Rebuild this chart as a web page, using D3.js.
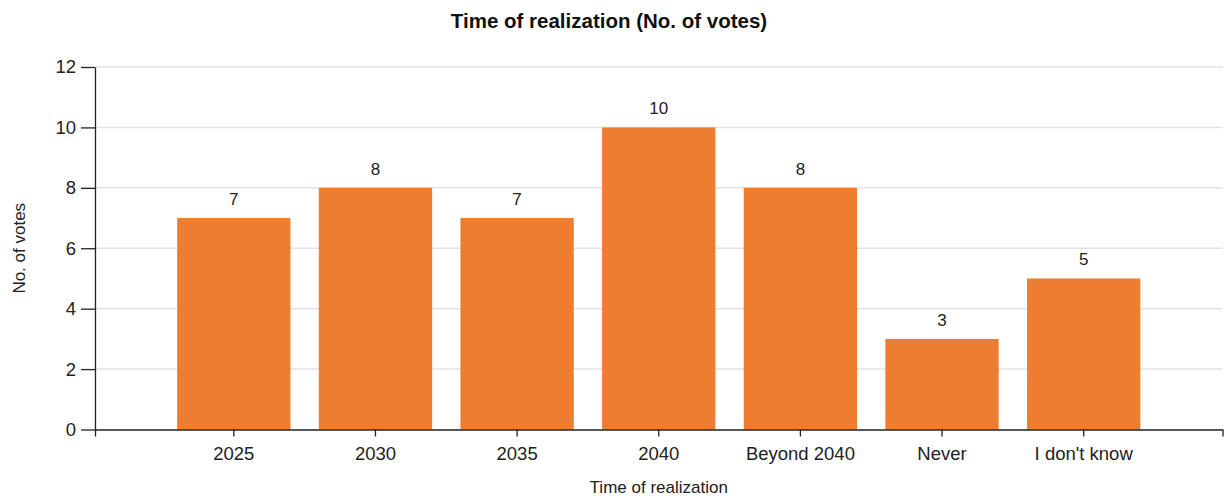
<!DOCTYPE html>
<html>
<head>
<meta charset="utf-8">
<script src="https://cdn.jsdelivr.net/npm/d3@7"></script>
<style>
  html, body { margin: 0; padding: 0; background: #fff; }
  svg { display: block; font-family: "Liberation Sans", Arial, sans-serif; }
</style>
</head>
<body>
<svg id="chart" width="1227" height="498"></svg>
<script>
const categories = ["2025", "2030", "2035", "2040", "Beyond 2040", "Never", "I don't know"];
const votes = [7, 8, 7, 10, 8, 3, 5];
const yTicks = [0, 2, 4, 6, 8, 10, 12];
const titleText = "Time of realization (No. of votes)";
const xTitle = "Time of realization";
const yTitle = "No. of votes";

(function () {
const svg = d3.select("#chart");
const mLeft = 95, mRight = 1222.5, mTop = 67, mBottom = 429.5;

const x = d3.scaleBand().domain(categories).range([mLeft, mRight])
  .paddingInner(0.2).paddingOuter(0.58).align(0.5);
const y = d3.scaleLinear().domain([0, 12]).range([mBottom, mTop]);

// gridlines
svg.append("g").selectAll("line").data(yTicks.filter(d => d > 0)).join("line")
  .attr("x1", mLeft).attr("x2", mRight)
  .attr("y1", d => y(d)).attr("y2", d => y(d))
  .attr("stroke", "#e2e2e2").attr("stroke-width", 1.5);

// bars
svg.append("g").selectAll("rect").data(categories).join("rect")
  .attr("x", d => x(d)).attr("width", x.bandwidth())
  .attr("y", (d, i) => y(votes[i]))
  .attr("height", (d, i) => y(0) - y(votes[i]))
  .attr("fill", "#ED7D31");

// value labels
svg.append("g").selectAll("text").data(categories).join("text")
  .attr("x", d => x(d) + x.bandwidth() / 2)
  .attr("y", (d, i) => y(votes[i]) - 13)
  .attr("text-anchor", "middle")
  .attr("font-size", 17).attr("fill", "#222")
  .text((d, i) => votes[i]);

// x axis
const xAxis = svg.append("g").attr("transform", `translate(0,${mBottom})`)
  .call(d3.axisBottom(x).tickSizeInner(7).tickSizeOuter(7).tickPadding(10.5));
xAxis.selectAll("text").attr("font-size", 18.5).attr("fill", "#222")
  .attr("font-family", "Liberation Sans, Arial, sans-serif");
xAxis.selectAll("path, line").attr("stroke", "#222").attr("stroke-width", 1.3);

// y axis
const yAxis = svg.append("g").attr("transform", `translate(${mLeft},0)`)
  .call(d3.axisLeft(y).tickValues(yTicks).tickSizeInner(14).tickSizeOuter(0).tickPadding(5));
yAxis.selectAll("text").attr("font-size", 18.5).attr("fill", "#222")
  .attr("font-family", "Liberation Sans, Arial, sans-serif");
yAxis.selectAll("path, line").attr("stroke", "#222").attr("stroke-width", 1.3);

// title
svg.append("text").attr("x", 609).attr("y", 28)
  .attr("text-anchor", "middle").attr("font-size", 20.5).attr("font-weight", "bold")
  .attr("fill", "#111").text(titleText);

// axis titles
svg.append("text").attr("x", (mLeft + mRight) / 2).attr("y", 493)
  .attr("text-anchor", "middle").attr("font-size", 17).attr("fill", "#222")
  .text(xTitle);
svg.append("text")
  .attr("transform", `translate(25,${(mTop + mBottom) / 2}) rotate(-90)`)
  .attr("text-anchor", "middle").attr("font-size", 17).attr("fill", "#222")
  .text(yTitle);
})();
</script>
</body>
</html>
